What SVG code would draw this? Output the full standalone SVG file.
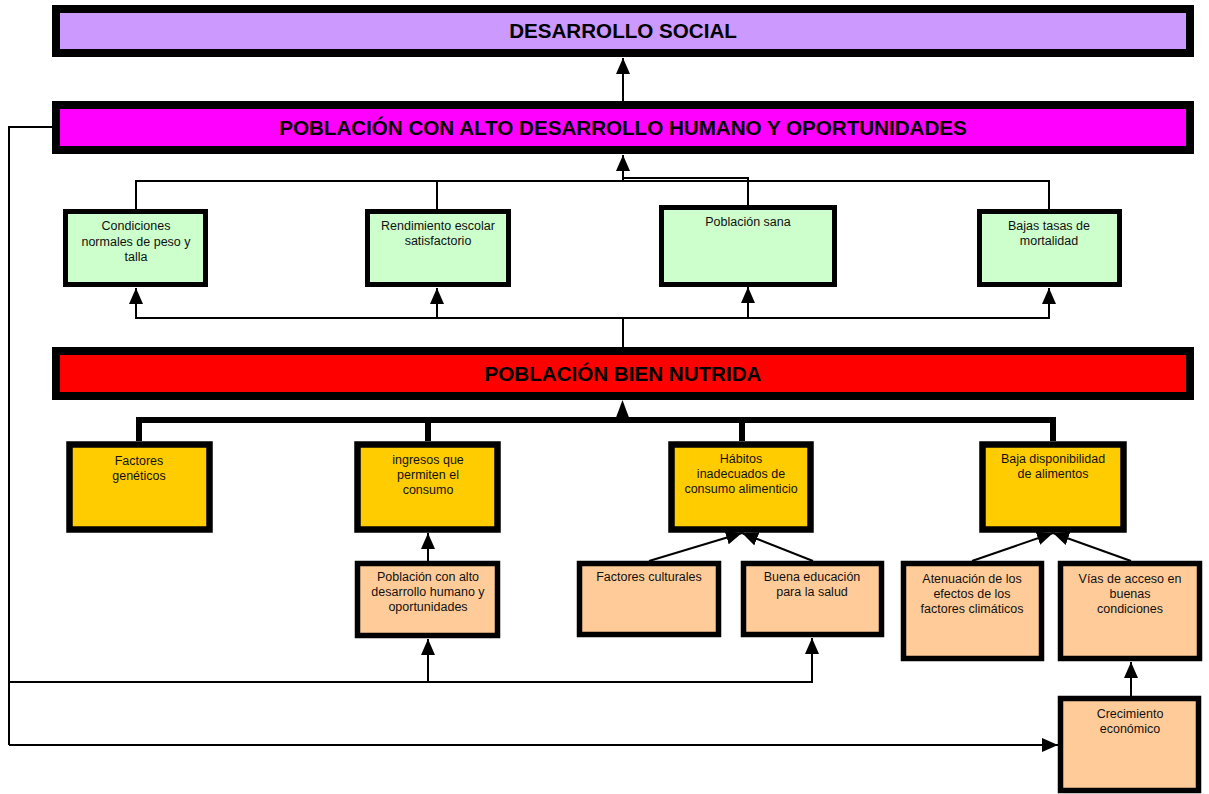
<svg xmlns="http://www.w3.org/2000/svg" width="1209" height="794" viewBox="0 0 1209 794">
<style>
.t{font-family:"Liberation Sans",Arial,sans-serif;font-size:12.5px;fill:#111;text-anchor:middle}
.h{font-family:"Liberation Sans",Arial,sans-serif;font-size:20.6px;font-weight:bold;fill:#000;text-anchor:middle}
.big{stroke:#000;stroke-width:8}
.g{fill:#CCFFCC;stroke:#000;stroke-width:5}
.y{fill:#FFCC00;stroke:#000;stroke-width:6.5}
.p{fill:#FFCC99;stroke:#000;stroke-width:5.5}
.c{fill:none;stroke:#000;stroke-width:2}
.ca{fill:none;stroke:#000;stroke-width:2;marker-end:url(#ah)}
.ct{fill:none;stroke:#000;stroke-width:6}
</style>
<defs>
<marker id="ah" markerUnits="userSpaceOnUse" markerWidth="16" markerHeight="14" refX="16" refY="7" orient="auto">
<path d="M0,0 L16,7 L0,14 z" fill="#000"/>
</marker>
</defs>
<rect width="1209" height="794" fill="#fff"/>

<g id="connectors">
<line class="ca" x1="623" y1="101" x2="623" y2="58"/>
<polyline class="c" points="136,209 136,181 1049,181 1049,209"/>
<line class="c" x1="437" y1="181" x2="437" y2="209"/>
<polyline class="c" points="623,178 748,178 748,205"/>
<line class="ca" x1="623" y1="181" x2="623" y2="155"/>
<polyline class="c" points="136,303 136,318 1049,318 1049,303"/>
<line class="ca" x1="136" y1="318" x2="136" y2="288"/>
<line class="ca" x1="437" y1="318" x2="437" y2="288"/>
<line class="ca" x1="748" y1="318" x2="748" y2="287"/>
<line class="ca" x1="1049" y1="318" x2="1049" y2="288"/>
<line class="c" x1="623" y1="318" x2="623" y2="347"/>
<polyline class="ct" points="139,441 139,420 1053,420 1053,441"/>
<line class="ct" x1="428" y1="420" x2="428" y2="441"/>
<line class="ct" x1="742" y1="420" x2="742" y2="441"/>
<polygon points="614,423 631,423 622.5,400" fill="#000"/>
<line class="ca" x1="428" y1="561" x2="428" y2="533"/>
<line class="ca" x1="649" y1="561" x2="742" y2="533"/>
<line class="ca" x1="813" y1="561" x2="742" y2="533"/>
<line class="ca" x1="972" y1="561" x2="1053" y2="533"/>
<line class="ca" x1="1131" y1="561" x2="1053" y2="533"/>
<polyline class="c" points="52,127 9,127 9,745"/>
<line class="ca" x1="9" y1="745" x2="1058" y2="745"/>
<polyline class="c" points="9,682 812,682 812,670"/>
<line class="ca" x1="428" y1="682" x2="428" y2="639"/>
<line class="ca" x1="812" y1="682" x2="812" y2="638"/>
<line class="ca" x1="1131" y1="696" x2="1131" y2="662"/>
</g>

<g id="desarrollo-social">
<rect class="big" x="56" y="9" width="1134" height="44" fill="#CC99FF"/>
<text class="h" x="623" y="38">DESARROLLO SOCIAL</text>
</g>
<g id="poblacion-alto-desarrollo">
<rect class="big" x="56" y="105" width="1134" height="45" fill="#FF00FF"/>
<text class="h" x="623" y="135">POBLACIÓN CON ALTO DESARROLLO HUMANO Y OPORTUNIDADES</text>
</g>
<g id="poblacion-bien-nutrida">
<rect class="big" x="56" y="351" width="1134" height="45" fill="#FF0000"/>
<text class="h" x="623" y="381">POBLACIÓN BIEN NUTRIDA</text>
</g>

<g id="condiciones">
<rect class="g" x="65.5" y="211.5" width="140" height="73"/>
<text class="t" x="136" y="230">Condiciones</text>
<text class="t" x="136" y="246">normales de peso y</text>
<text class="t" x="136" y="261">talla</text>
</g>
<g id="rendimiento">
<rect class="g" x="367.5" y="211.5" width="141" height="73"/>
<text class="t" x="438" y="230">Rendimiento escolar</text>
<text class="t" x="438" y="245">satisfactorio</text>
</g>
<g id="poblacion-sana">
<rect class="g" x="661.5" y="207.5" width="173" height="77"/>
<text class="t" x="748" y="226">Población sana</text>
</g>
<g id="bajas-tasas">
<rect class="g" x="979.5" y="211.5" width="140" height="73"/>
<text class="t" x="1049" y="230">Bajas tasas de</text>
<text class="t" x="1049" y="245">mortalidad</text>
</g>

<g id="factores-geneticos">
<rect class="y" x="69.5" y="444.5" width="140" height="85"/>
<text class="t" x="139" y="465">Factores</text>
<text class="t" x="139" y="480">genéticos</text>
</g>
<g id="ingresos">
<rect class="y" x="357.5" y="444.5" width="140" height="85"/>
<text class="t" x="428" y="464">ingresos que</text>
<text class="t" x="428" y="479">permiten el</text>
<text class="t" x="428" y="494">consumo</text>
</g>
<g id="habitos">
<rect class="y" x="671.5" y="444.5" width="139" height="85"/>
<text class="t" x="741" y="463">Hábitos</text>
<text class="t" x="741" y="478">inadecuados de</text>
<text class="t" x="741" y="493">consumo alimenticio</text>
</g>
<g id="baja-disponibilidad">
<rect class="y" x="982.5" y="444.5" width="141" height="85"/>
<text class="t" x="1053" y="463">Baja disponibilidad</text>
<text class="t" x="1053" y="478">de alimentos</text>
</g>

<g id="poblacion-alto-desarrollo-2">
<rect class="p" x="357.5" y="563.5" width="140" height="72"/>
<text class="t" x="428" y="581">Población con alto</text>
<text class="t" x="428" y="596">desarrollo humano y</text>
<text class="t" x="428" y="611">oportunidades</text>
</g>
<g id="factores-culturales">
<rect class="p" x="579.5" y="563.5" width="139" height="71"/>
<text class="t" x="649" y="581">Factores culturales</text>
</g>
<g id="buena-educacion">
<rect class="p" x="743.5" y="563.5" width="138" height="71"/>
<text class="t" x="812" y="581">Buena educación</text>
<text class="t" x="812" y="596">para la salud</text>
</g>
<g id="atenuacion">
<rect class="p" x="903.5" y="563.5" width="138" height="95"/>
<text class="t" x="972" y="583">Atenuación de los</text>
<text class="t" x="972" y="598">efectos de los</text>
<text class="t" x="972" y="613">factores climáticos</text>
</g>
<g id="vias-acceso">
<rect class="p" x="1060.5" y="563.5" width="139" height="95"/>
<text class="t" x="1130" y="583">Vías de acceso en</text>
<text class="t" x="1130" y="598">buenas</text>
<text class="t" x="1130" y="613">condiciones</text>
</g>
<g id="crecimiento">
<rect class="p" x="1060.5" y="698.5" width="138" height="92"/>
<text class="t" x="1130" y="718">Crecimiento</text>
<text class="t" x="1130" y="733">económico</text>
</g>
</svg>
